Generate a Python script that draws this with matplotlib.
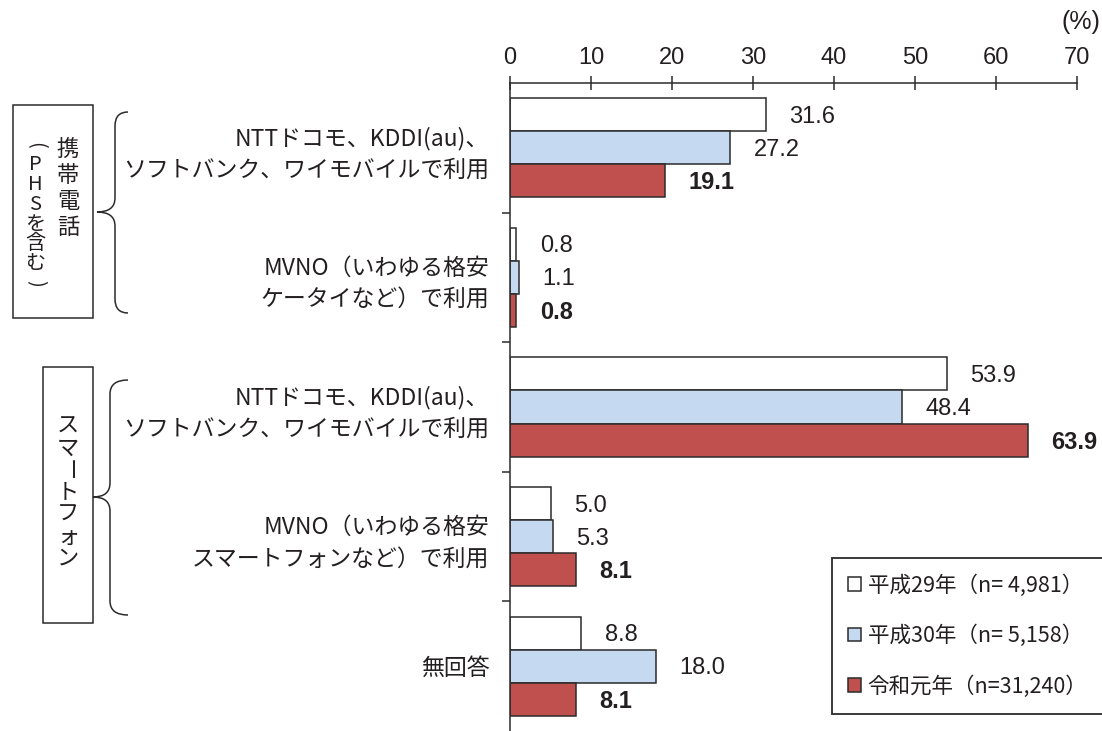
import matplotlib
matplotlib.use('Agg')
import matplotlib.pyplot as plt
import numpy as np
from matplotlib import font_manager
from matplotlib.patches import Patch, PathPatch, Rectangle
from matplotlib.path import Path

JP = ['Noto Sans CJK JP', 'DejaVu Sans']
_names = {f.name for f in font_manager.fontManager.ttflist}
NUM = ['Liberation Sans Narrow'] if 'Liberation Sans Narrow' in _names else ['Liberation Sans']
plt.rcParams['font.family'] = JP

W, H = 1102, 731
TEXT = '#231f20'
EDGE = '#2b2b2b'

categories = [
    'NTTドコモ、KDDI(au)、\nソフトバンク、ワイモバイルで利用',
    'MVNO（いわゆる格安\nケータイなど）で利用',
    'NTTドコモ、KDDI(au)、\nソフトバンク、ワイモバイルで利用',
    'MVNO（いわゆる格安\nスマートフォンなど）で利用',
    '無回答',
]
h29 = [31.6, 0.8, 53.9, 5.0, 8.8]
h30 = [27.2, 1.1, 48.4, 5.3, 18.0]
r1 = [19.1, 0.8, 63.9, 8.1, 8.1]
series_labels = ['平成29年（n= 4,981）', '平成30年（n= 5,158）', '令和元年（n=31,240）']
series_colors = ['white', '#c5d9f1', '#c0504d']
x_ticks = [0, 10, 20, 30, 40, 50, 60, 70]


def fig_xy(x, y):
    # pixel position (from top-left) to figure fraction
    return x / W, 1 - y / H


def brace(fig, xr, xm, xl, yt, ytip, yb, r=14):
    pts = [(xr, yt), (xm, yt), (xm, yt + r),
           (xm, ytip - r), (xm, ytip), (xl, ytip),
           (xm, ytip), (xm, ytip + r),
           (xm, yb - r), (xm, yb), (xr, yb)]
    codes = [Path.MOVETO, Path.CURVE3, Path.CURVE3,
             Path.LINETO, Path.CURVE3, Path.CURVE3,
             Path.CURVE3, Path.CURVE3,
             Path.LINETO, Path.CURVE3, Path.CURVE3]
    path = Path([fig_xy(*p) for p in pts], codes)
    fig.add_artist(PathPatch(path, fill=False, ec=EDGE, lw=1.1,
                             transform=fig.transFigure))


def box(fig, x0, y0, x1, y1):
    fx0, fy1 = fig_xy(x0, y1)
    fx1, fy0 = fig_xy(x1, y0)
    fig.add_artist(Rectangle((fx0, fy1), fx1 - fx0, fy0 - fy1, fill=False,
                             ec=EDGE, lw=1.1, transform=fig.transFigure))


def vertical_text(fig, x, y0, text, pitch, size=16):
    # stack characters top to bottom; brackets and the long vowel mark turn
    rotated = {'(': -90, ')': -90, 'ー': -90}
    for i, ch in enumerate(text):
        fx, fy = fig_xy(x, y0 + i * pitch)
        fig.text(fx, fy, ch, ha='center', va='center', fontsize=size,
                 rotation=rotated.get(ch, 0), rotation_mode='anchor',
                 color=TEXT, family=JP)


fig = plt.figure(figsize=(W / 100, H / 100), dpi=100)
ax = fig.add_axes([510 / W, 0, 567 / W, 648 / H])

y = np.arange(len(categories)) + 0.5
bh = 0.255
offsets = [-bh, 0, bh]
for vals, off, col in zip([h29, h30, r1], offsets, series_colors):
    ax.barh(y + off, vals, height=bh, color=col, edgecolor=EDGE, linewidth=1.1)

for vals, off, bold in zip([h29, h30, r1], offsets, [False, False, True]):
    for yi, v in zip(y + off, vals):
        ax.annotate(f'{v:.1f}', (v, yi), xytext=(17, -1.5), textcoords='offset points',
                    ha='left', va='center', fontsize=17, color=TEXT,
                    family=NUM, fontweight='bold' if bold else 'normal',
                    annotation_clip=False)

ax.set_xlim(0, 70)
ax.set_ylim(len(categories), 0)
ax.xaxis.tick_top()
ax.set_xticks(x_ticks)
ax.set_xticklabels([str(t) for t in x_ticks], family=NUM, fontsize=17, color=TEXT)
ax.tick_params(axis='x', direction='inout', length=10, width=1.1, pad=5, color=EDGE)

ax.set_yticks(y)
ax.set_yticklabels(categories, fontsize=16.5, color=TEXT, linespacing=1.45)
ax.set_yticks(np.arange(1, len(categories)), minor=True)
ax.tick_params(axis='y', which='major', length=0, pad=15)
ax.tick_params(axis='y', which='minor', direction='out', length=6, width=1.1, color=EDGE)

for side in ['right', 'bottom']:
    ax.spines[side].set_visible(False)
for side in ['left', 'top']:
    ax.spines[side].set_linewidth(1.1)
    ax.spines[side].set_color(EDGE)

fig.text(*fig_xy(1100, 22), '(%)', ha='right', va='center', fontsize=18,
         color=TEXT, family=NUM)

# group boxes and braces
box(fig, 13, 105, 93, 318)
vertical_text(fig, 68, 149, '携帯電話', 26)
vertical_text(fig, 35, 145, '(PHSを含む)', 19.8, size=14.5)
brace(fig, 128, 115, 97, 112, 212, 313)

box(fig, 43, 367, 93, 623)
vertical_text(fig, 68, 426, 'スマートフォン', 22)
brace(fig, 128, 110, 93, 380, 497, 615)

handles = [Patch(facecolor=c, edgecolor=EDGE, linewidth=1.1) for c in series_colors]
leg = fig.legend(handles, series_labels, loc='upper left',
                 bbox_to_anchor=fig_xy(832, 558), borderaxespad=0,
                 fontsize=15.5, handlelength=0.6, handleheight=0.6,
                 handletextpad=0.3, labelspacing=1.3, borderpad=0.75,
                 fancybox=False, framealpha=1, edgecolor=EDGE)
leg.get_frame().set_linewidth(1.3)
for t in leg.get_texts():
    t.set_color(TEXT)

fig.savefig('out.png', dpi=100)
